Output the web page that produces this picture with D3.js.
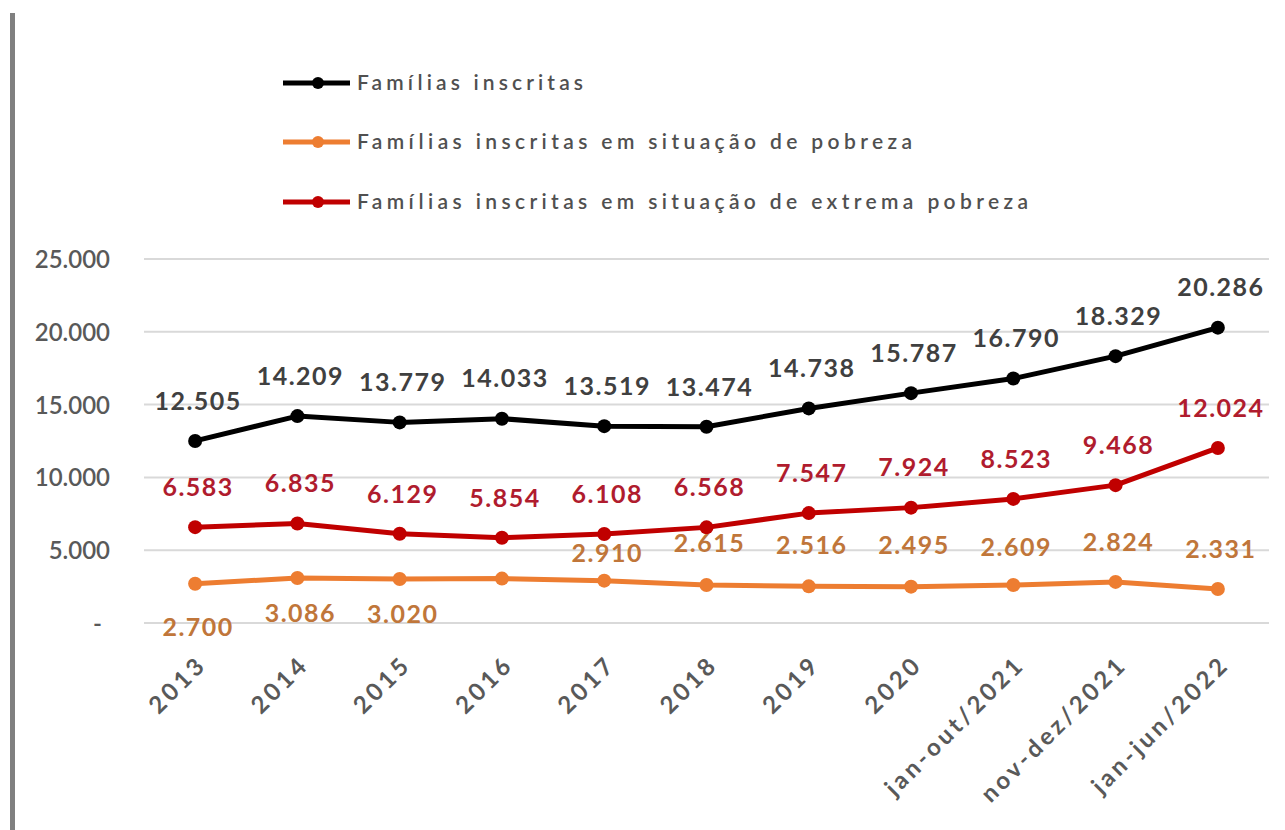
<!DOCTYPE html>
<html>
<head>
<meta charset="utf-8">
<script src="https://cdn.jsdelivr.net/npm/d3@7"></script>
<style>
  html, body { margin: 0; padding: 0; background: #ffffff; }
  svg { display: block; font-family: Lato, "Open Sans", sans-serif; }
</style>
</head>
<body>
<svg id="chart" width="1285" height="830"></svg>
<script>
// ---- data ----
const categories = ["2013", "2014", "2015", "2016", "2017", "2018", "2019", "2020", "jan-out/2021", "nov-dez/2021", "jan-jun/2022"];
const familiasInscritas = [12505, 14209, 13779, 14033, 13519, 13474, 14738, 15787, 16790, 18329, 20286];
const familiasPobreza = [2700, 3086, 3020, 3050, 2910, 2615, 2516, 2495, 2609, 2824, 2331];
const familiasExtremaPobreza = [6583, 6835, 6129, 5854, 6108, 6568, 7547, 7924, 8523, 9468, 12024];
// which points carry a visible data label in the original (2016 "pobreza" has none)
const pobrezaLabelShown = [true, true, true, false, true, true, true, true, true, true, true];
const yTicks = [0, 5000, 10000, 15000, 20000, 25000];
const seriesNames = [
  "Famílias inscritas",
  "Famílias inscritas em situação de pobreza",
  "Famílias inscritas em situação de extrema pobreza"
];

// ---- layout / style ----
const svg = d3.select("#chart");
const plotLeft = 144, plotRight = 1269, plotTop = 259, plotBottom = 623;
const colors = { black: "#000000", orange: "#ed7d31", red: "#c00000" };
const labelColors = { black: "#404040", orange: "#c0763a", red: "#b01c2e" };
// vertical offsets of the orange labels (below for first years, above afterwards)
const pobrezaLabelDy = [44, 35, 35, 0, -27, -42, -41, -41, -38, -40, -40];

const x = d3.scalePoint().domain(categories).range([plotLeft, plotRight]).padding(0.5);
const y = d3.scaleLinear().domain([0, 25000]).range([plotBottom, plotTop]);
const fmt = v => v === 0 ? "-" : d3.format(",")(v).replace(/,/g, ".");

// left grey bar
svg.append("rect").attr("x", 10).attr("y", 13).attr("width", 5).attr("height", 817).attr("fill", "#808080");

// gridlines
svg.append("g").selectAll("line").data(yTicks).join("line")
  .attr("x1", plotLeft).attr("x2", plotRight)
  .attr("y1", d => y(d)).attr("y2", d => y(d))
  .attr("stroke", "#d9d9d9").attr("stroke-width", 2);

// y axis labels
const yAxis = d3.axisLeft(y).tickValues(yTicks).tickFormat(fmt).tickSize(0).tickPadding(0);
const gy = svg.append("g").attr("transform", "translate(110,0)").call(yAxis);
gy.select(".domain").remove();
gy.selectAll("text")
  .attr("font-size", 24).attr("fill", "#595959").attr("font-family", "Lato")
  .attr("font-weight", 600).attr("dy", "0.35em");
gy.selectAll(".tick").filter(d => d === 0).select("text").attr("dx", -8);

// x axis labels
const xAxis = d3.axisBottom(x).tickSize(0).tickPadding(0);
const gx = svg.append("g").call(xAxis);
gx.select(".domain").remove();
gx.selectAll(".tick").attr("transform", d => `translate(${x(d) + 1},654)`);
gx.selectAll("text")
  .attr("y", 0).attr("dy", "0.7em")
  .attr("transform", "rotate(-45)")
  .attr("text-anchor", "end")
  .attr("font-size", 24).attr("font-weight", 700).attr("fill", "#595959")
  .attr("font-family", "Lato").style("letter-spacing", "3.5px");

// series
const series = [
  { name: seriesNames[0], values: familiasInscritas, color: colors.black },
  { name: seriesNames[1], values: familiasPobreza, color: colors.orange },
  { name: seriesNames[2], values: familiasExtremaPobreza, color: colors.red }
];
const line = d3.line().x((d, i) => x(categories[i])).y(d => y(d));

series.forEach(s => {
  svg.append("path").datum(s.values)
    .attr("d", line).attr("fill", "none")
    .attr("stroke", s.color).attr("stroke-width", 5).attr("stroke-linejoin", "round");
  svg.append("g").selectAll("circle").data(s.values).join("circle")
    .attr("cx", (d, i) => x(categories[i])).attr("cy", d => y(d))
    .attr("r", 7).attr("fill", s.color);
});

// data labels
function labels(values, color, dyFn, showFn) {
  svg.append("g").selectAll("text").data(values.map((v, i) => ({ v, i })).filter(d => showFn(d.i))).join("text")
    .attr("x", d => x(categories[d.i]) + 3)
    .attr("y", d => y(d.v) + dyFn(d.i))
    .attr("dy", "0.35em")
    .attr("text-anchor", "middle")
    .attr("font-size", 25).attr("font-weight", 700).attr("fill", color)
    .attr("font-family", "Lato").style("letter-spacing", "1.5px")
    .text(d => fmt(d.v));
}
labels(familiasInscritas, labelColors.black, () => -40, () => true);
labels(familiasExtremaPobreza, labelColors.red, () => -40, () => true);
labels(familiasPobreza, labelColors.orange, i => pobrezaLabelDy[i], i => pobrezaLabelShown[i]);

// legend
const legendY = [83, 142, 202];
const legendWidths = [226, 555, 671];
const lg = svg.append("g");
series.forEach((s, i) => {
  const g = lg.append("g").attr("transform", `translate(0,${legendY[i]})`);
  g.append("line").attr("x1", 283).attr("x2", 350).attr("y1", 0).attr("y2", 0)
    .attr("stroke", s.color).attr("stroke-width", 5);
  g.append("circle").attr("cx", 318).attr("cy", 0).attr("r", 6).attr("fill", s.color);
  g.append("text").attr("x", 357).attr("y", 0).attr("dy", "0.35em")
    .attr("font-size", 21).attr("font-weight", 600).attr("fill", "#505050")
    .attr("font-family", "Lato")
    .attr("textLength", legendWidths[i]).attr("lengthAdjust", "spacing")
    .text(s.name);
});
</script>
</body>
</html>
